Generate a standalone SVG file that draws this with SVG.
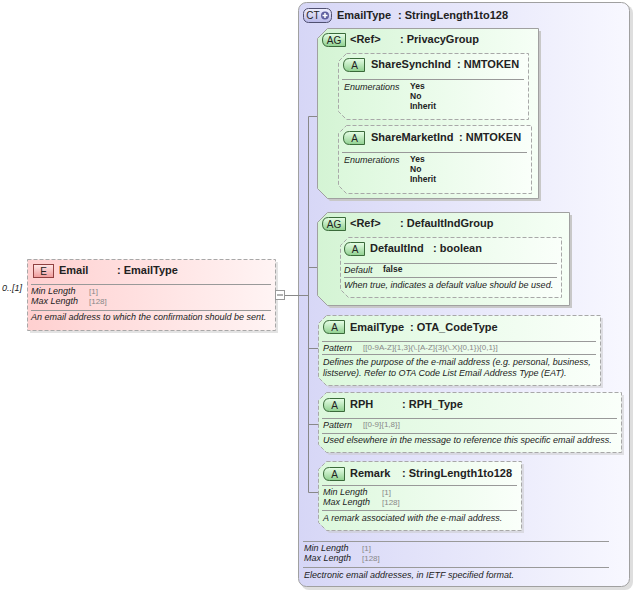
<svg xmlns="http://www.w3.org/2000/svg" width="633" height="590" viewBox="0 0 633 590">
<defs>
<linearGradient id="gE" x1="0" y1="0" x2="1" y2="0"><stop offset="0" stop-color="#FFD0D0"/><stop offset="1" stop-color="#FFF4F4"/></linearGradient>
<linearGradient id="gCT" x1="0" y1="0" x2="1" y2="0"><stop offset="0" stop-color="#D6D6F6"/><stop offset="1" stop-color="#F8F8FF"/></linearGradient>
<linearGradient id="gG" x1="0" y1="0" x2="1" y2="0"><stop offset="0" stop-color="#D4F4D4"/><stop offset="1" stop-color="#F6FFF6"/></linearGradient>
<linearGradient id="gA" x1="0" y1="0" x2="1" y2="0"><stop offset="0" stop-color="#DCF8DC"/><stop offset="1" stop-color="#FAFFFA"/></linearGradient>
<linearGradient id="gBA" x1="0" y1="0" x2="0" y2="1"><stop offset="0" stop-color="#E8FFE8"/><stop offset="1" stop-color="#8FD08F"/></linearGradient>
<linearGradient id="gBE" x1="0" y1="0" x2="0" y2="1"><stop offset="0" stop-color="#FFE8E8"/><stop offset="1" stop-color="#F09A9A"/></linearGradient>
<linearGradient id="gBC" x1="0" y1="0" x2="0" y2="1"><stop offset="0" stop-color="#F0F0FF"/><stop offset="1" stop-color="#B8B8E8"/></linearGradient>
</defs>
<style>
text{font-family:"Liberation Sans",Arial,sans-serif;fill:#222}
.t{font-size:11px;font-weight:bold}
.l{font-size:9px;font-style:italic}
.v{font-size:8px;fill:#888}
.en{font-size:8.5px;font-weight:bold}
.b{font-size:10px;text-anchor:middle}
.dash{stroke:#A8A8A8;stroke-width:1;stroke-dasharray:4,2}
.sep{stroke:#999;stroke-width:1}
.sh{fill:#C8C8C8}
.ab{fill:url(#gBA);stroke:#3A6A3A;stroke-width:1}
.con{stroke:#888;stroke-width:1;fill:none}
</style>

<g id="ct-EmailType">
<rect x="301" y="5" width="332" height="585" rx="8" class="sh" opacity="0.6"/>
<rect x="298.5" y="2.5" width="331" height="584" rx="8" fill="url(#gCT)" stroke="#A0A0A0"/>
<rect x="303.5" y="8.5" width="28" height="14" rx="5" fill="url(#gBC)" stroke="#505070"/>
<text x="313" y="19" class="b">CT</text>
<circle cx="325" cy="15.5" r="4" fill="#6060A0"/>
<path d="M322.5,15.5H327.5M325,13V18" stroke="#fff" stroke-width="1.5"/>
<text x="337" y="19" class="t">EmailType</text><text x="398" y="19" class="t">: StringLength1to128</text>
<line x1="303" y1="541.5" x2="609" y2="541.5" class="sep"/>
<text x="304" y="551" class="l">Min Length</text><text x="362" y="551" class="v">[1]</text>
<text x="304" y="561" class="l">Max Length</text><text x="362" y="561" class="v">[128]</text>
<line x1="303" y1="567.5" x2="609" y2="567.5" class="sep"/>
<text x="304" y="578" class="l">Electronic email addresses, in IETF specified format.</text>
</g>

<g id="connectors">
<line x1="285" y1="295.5" x2="308.5" y2="295.5" class="con"/>
<line x1="308.5" y1="116.5" x2="308.5" y2="492.5" class="con"/>
<line x1="308.5" y1="116.5" x2="328.5" y2="116.5" class="con"/>
<line x1="328.5" y1="85.5" x2="328.5" y2="167.5" class="con"/>
<line x1="328.5" y1="85.5" x2="339" y2="85.5" class="con"/>
<line x1="328.5" y1="167.5" x2="339" y2="167.5" class="con"/>
<line x1="308.5" y1="267.5" x2="341" y2="267.5" class="con"/>
<line x1="308.5" y1="348.5" x2="318" y2="348.5" class="con"/>
<line x1="308.5" y1="424.5" x2="318" y2="424.5" class="con"/>
<line x1="308.5" y1="492.5" x2="318" y2="492.5" class="con"/>
</g>

<g id="el-Email">
<rect x="30" y="262" width="248" height="71" class="sh" opacity="0.5"/>
<rect x="27.5" y="259.5" width="248" height="71" fill="url(#gE)" class="dash"/>
<rect x="33.5" y="264.5" width="20" height="13" fill="url(#gBE)" stroke="#904040"/>
<text x="43.5" y="275" class="b">E</text>
<text x="59" y="274" class="t">Email</text><text x="117" y="274" class="t">: EmailType</text>
<line x1="31" y1="284.5" x2="271" y2="284.5" class="sep"/>
<text x="31" y="294" class="l">Min Length</text><text x="89" y="294" class="v">[1]</text>
<text x="31" y="304" class="l">Max Length</text><text x="89" y="304" class="v">[128]</text>
<line x1="31" y1="310.5" x2="271" y2="310.5" class="sep"/>
<text x="31" y="320" class="l">An email address to which the confirmation should be sent.</text>
<rect x="275.5" y="290.5" width="9" height="9" fill="#fff" stroke="#999"/>
<line x1="277" y1="295" x2="283" y2="295" stroke="#666"/>
<text x="2" y="291" class="l">0..[1]</text>
</g>

<g id="ag-PrivacyGroup">
<path d="M330,31H541V201H330L320,191V41Z" class="sh"/>
<path d="M327.5,28.5H538.5V198.5H327.5L317.5,188.5V38.5Z" fill="url(#gG)" stroke="#A0A0A0"/>
<path d="M328.5,33.5H345.5V46.5H328.5Q322.5,46.5 322.5,40Q322.5,33.5 328.5,33.5Z" class="ab"/>
<text x="334" y="44" class="b">AG</text>
<text x="350" y="43" class="t">&lt;Ref&gt;</text><text x="400" y="43" class="t">: PrivacyGroup</text>
</g>

<g id="attr-ShareSynchInd">
<path d="M346.5,53.5H528.5V119.5H346.5L338.5,111.5V61.5Z" fill="url(#gA)" class="dash"/>
<path d="M349.5,58.5H364.5V71.5H349.5Q343.5,71.5 343.5,65Q343.5,58.5 349.5,58.5Z" class="ab"/>
<text x="354.5" y="69" class="b">A</text>
<text x="371" y="68" class="t">ShareSynchInd</text><text x="457" y="68" class="t">: NMTOKEN</text>
<line x1="342" y1="79.5" x2="524" y2="79.5" class="sep"/>
<text x="344" y="90" class="l">Enumerations</text>
<text x="410" y="89" class="en">Yes</text>
<text x="410" y="99" class="en">No</text>
<text x="410" y="109" class="en">Inherit</text>
</g>

<g id="attr-ShareMarketInd">
<path d="M346.5,125.5H531.5V193.5H346.5L338.5,185.5V133.5Z" fill="url(#gA)" class="dash"/>
<path d="M349.5,131.5H364.5V144.5H349.5Q343.5,144.5 343.5,138Q343.5,131.5 349.5,131.5Z" class="ab"/>
<text x="354.5" y="142" class="b">A</text>
<text x="371" y="141" class="t">ShareMarketInd</text><text x="459" y="141" class="t">: NMTOKEN</text>
<line x1="342" y1="152.5" x2="527" y2="152.5" class="sep"/>
<text x="344" y="163" class="l">Enumerations</text>
<text x="410" y="162" class="en">Yes</text>
<text x="410" y="172" class="en">No</text>
<text x="410" y="182" class="en">Inherit</text>
</g>

<g id="ag-DefaultIndGroup">
<path d="M330,215H572V308H330L320,298V225Z" class="sh"/>
<path d="M327.5,212.5H569.5V305.5H327.5L317.5,295.5V222.5Z" fill="url(#gG)" stroke="#A0A0A0"/>
<path d="M328.5,217.5H345.5V230.5H328.5Q322.5,230.5 322.5,224Q322.5,217.5 328.5,217.5Z" class="ab"/>
<text x="334" y="228" class="b">AG</text>
<text x="350" y="227" class="t">&lt;Ref&gt;</text><text x="400" y="227" class="t">: DefaultIndGroup</text>
</g>

<g id="attr-DefaultInd">
<path d="M348.5,237.5H561.5V297.5H348.5L340.5,289.5V245.5Z" fill="url(#gA)" class="dash"/>
<path d="M350.5,242.5H364.5V255.5H350.5Q344.5,255.5 344.5,249Q344.5,242.5 350.5,242.5Z" class="ab"/>
<text x="355" y="253" class="b">A</text>
<text x="370" y="252" class="t">DefaultInd</text><text x="433" y="252" class="t">: boolean</text>
<line x1="344" y1="263.5" x2="557" y2="263.5" class="sep"/>
<text x="344" y="273" class="l">Default</text><text x="383" y="272" class="en">false</text>
<line x1="344" y1="277.5" x2="557" y2="277.5" class="sep"/>
<text x="344" y="288" class="l">When true, indicates a default value should be used.</text>
</g>

<g id="attr-EmailType">
<path d="M329,318H603V388H329L321,380V326Z" class="sh" opacity="0.5"/>
<path d="M326.5,315.5H600.5V385.5H326.5L318.5,377.5V323.5Z" fill="url(#gA)" class="dash"/>
<path d="M329.5,320.5H344.5V333.5H329.5Q323.5,333.5 323.5,327Q323.5,320.5 329.5,320.5Z" class="ab"/>
<text x="334.5" y="331" class="b">A</text>
<text x="350" y="331" class="t">EmailType</text><text x="410" y="331" class="t">: OTA_CodeType</text>
<line x1="322" y1="341.5" x2="596" y2="341.5" class="sep"/>
<text x="323" y="351" class="l">Pattern</text><text x="363" y="350" class="v">[[0-9A-Z]{1,3}(\.[A-Z]{3}(\.X){0,1}){0,1}]</text>
<line x1="322" y1="354.5" x2="596" y2="354.5" class="sep"/>
<text x="323" y="365" class="l">Defines the purpose of the e-mail address (e.g. personal, business,</text>
<text x="323" y="376" class="l">listserve). Refer to OTA Code List Email Address Type (EAT).</text>
</g>

<g id="attr-RPH">
<path d="M329,395H624V455H329L321,447V403Z" class="sh" opacity="0.5"/>
<path d="M326.5,392.5H621.5V452.5H326.5L318.5,444.5V400.5Z" fill="url(#gA)" class="dash"/>
<path d="M329.5,398.5H344.5V411.5H329.5Q323.5,411.5 323.5,405Q323.5,398.5 329.5,398.5Z" class="ab"/>
<text x="334.5" y="409" class="b">A</text>
<text x="350" y="408" class="t">RPH</text><text x="402" y="408" class="t">: RPH_Type</text>
<line x1="322" y1="418.5" x2="617" y2="418.5" class="sep"/>
<text x="323" y="428" class="l">Pattern</text><text x="363" y="427" class="v">[[0-9]{1,8}]</text>
<line x1="322" y1="433.5" x2="617" y2="433.5" class="sep"/>
<text x="323" y="443" class="l">Used elsewhere in the message to reference this specific email address.</text>
</g>

<g id="attr-Remark">
<path d="M329,464H524V533H329L321,525V472Z" class="sh" opacity="0.5"/>
<path d="M326.5,461.5H521.5V530.5H326.5L318.5,522.5V469.5Z" fill="url(#gA)" class="dash"/>
<path d="M329.5,467.5H344.5V480.5H329.5Q323.5,480.5 323.5,474Q323.5,467.5 329.5,467.5Z" class="ab"/>
<text x="334.5" y="478" class="b">A</text>
<text x="350" y="477" class="t">Remark</text><text x="402" y="477" class="t">: StringLength1to128</text>
<line x1="322" y1="485.5" x2="517" y2="485.5" class="sep"/>
<text x="323" y="495" class="l">Min Length</text><text x="382" y="495" class="v">[1]</text>
<text x="323" y="505" class="l">Max Length</text><text x="382" y="505" class="v">[128]</text>
<line x1="322" y1="510.5" x2="517" y2="510.5" class="sep"/>
<text x="323" y="521" class="l">A remark associated with the e-mail address.</text>
</g>
</svg>
